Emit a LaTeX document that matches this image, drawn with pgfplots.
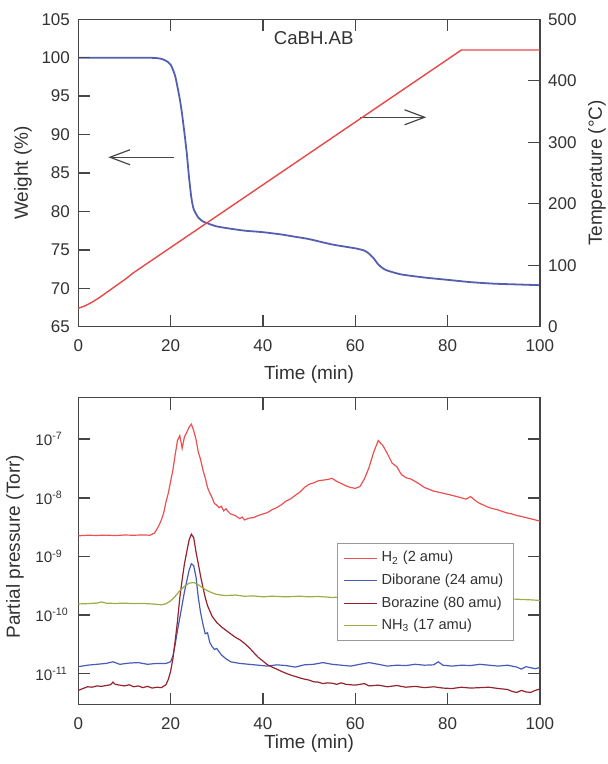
\documentclass[border=0pt]{standalone}
\usepackage{fontspec}
\setmainfont{Liberation Sans}
\usepackage{pgfplots}
\pgfplotsset{compat=1.18}
\usetikzlibrary{arrows.meta}

\definecolor{axisgray}{RGB}{70,70,70}
\definecolor{txtgray}{RGB}{50,50,50}
\definecolor{wtblue}{RGB}{85,95,178}
\definecolor{tempred}{RGB}{232,72,72}
\definecolor{htwo}{RGB}{236,80,80}
\definecolor{dibor}{RGB}{70,92,185}
\definecolor{borz}{RGB}{150,35,48}
\definecolor{nhthree}{RGB}{155,172,72}

\tikzset{tk/.style={draw=axisgray, line width=0.7pt}}

\pgfplotsset{
  tga/.style={
    scale only axis, width=230.75pt, xmin=0, xmax=100,
    axis line style={axisgray, line width=0.7pt},
    major tick length=6pt,
    tick style={axisgray, line width=0.7pt},
    tick label style={font=\fontsize{8.5}{10}\selectfont, text=txtgray, inner sep=0pt},
    label style={font=\fontsize{9.5}{11}\selectfont, text=txtgray, inner sep=0pt},
    xtick={0,20,...,100}, xticklabels={0,20,40,60,80,100},
    xticklabel style={yshift=-6.3pt},
  }
}

\begin{document}
\begin{tikzpicture}
\path (0,0) rectangle (303.5pt,-382pt);

% ---- top: weight and temperature ----
\begin{axis}[tga, at={(39.15pt,-163.35pt)}, anchor=south west, height=153.7pt,
  ymin=65, ymax=105, ytick={65,70,...,105}, yticklabels={65,70,75,80,85,90,95,100,105},
  yticklabel style={xshift=-4pt}, ytick pos=left, xtick pos=both,
  xlabel={Time (min)}, ylabel={Weight (\%)},
  xlabel style={at={(axis description cs:0.5,-0.157)}, anchor=center},
  ylabel style={at={(axis description cs:-0.12,0.5)}, anchor=center}]
\addplot[wtblue, line width=0.9pt, smooth, tension=0.4] coordinates {
(0,100.0) (5,100.0) (10,100.0) (15,100.0) (17,99.95) (18,99.85) (19,99.6) (20,99.1)
(21,97.6) (22,94.6) (22.5,92.6) (23,90.2) (23.5,87.6) (24,84.4) (24.5,81.8) (25,80.3)
(26,79.2) (27,78.7) (28,78.45) (30,78.05) (33,77.75) (36,77.5) (40,77.3) (44,77.0)
(47,76.7) (50,76.4) (55,75.7) (60,75.2) (62,74.9) (63,74.5) (64,73.9) (65,73.1)
(66,72.6) (67,72.3) (70,71.8) (75,71.4) (80,71.1) (85,70.8) (90,70.6) (95,70.5) (100,70.4)};
\pgfplotsinvokeforeach{20,40,60,80}{
  \draw[tk] (axis cs:#1,65) -- (axis cs:#1,66.56);
  \draw[tk] (axis cs:#1,105) -- (axis cs:#1,103.44);}
\pgfplotsinvokeforeach{70,75,80,85,90,95,100}{
  \draw[tk] (axis cs:0,#1) -- (axis cs:2.6,#1);}
\draw[axisgray, line width=0.6pt, -{Straight Barb[length=10pt,width=7.5pt]}]
  (axis cs:20.8,87.05) -- (axis cs:6.5,87.05);
\draw[axisgray, line width=0.6pt, -{Straight Barb[length=10pt,width=7.5pt]}]
  (axis cs:61.1,92.25) -- (axis cs:75.4,92.25);
\node[font=\fontsize{9.3}{11}\selectfont, text=txtgray] at (axis cs:51,102.5) {CaBH.AB};
\end{axis}

\begin{axis}[tga, at={(39.15pt,-163.35pt)}, anchor=south west, height=153.7pt,
  ymin=0, ymax=500, ytick={0,100,...,500}, yticklabels={0,100,200,300,400,500},
  yticklabel style={xshift=4pt}, axis x line=none, axis y line*=right,
  tick align=inside, ytick pos=right, ylabel={Temperature (°C)},
  ylabel style={at={(axis description cs:1.124,0.5)}, anchor=center}]
\addplot[tempred, line width=0.7pt] coordinates {
(0,30) (1.5,34) (3,40) (4.5,47) (6,55) (7.5,63) (9,71) (10.5,79) (12,88) (83,450) (100,450)};
\pgfplotsinvokeforeach{100,200,300,400}{
  \draw[tk] (axis cs:100,#1) -- (axis cs:97.4,#1);}
\end{axis}

% ---- bottom: mass spectrometry ----
\begin{axis}[tga, at={(39.15pt,-352.25pt)}, anchor=south west, height=153.5pt,
  ymode=log, ymin=2.99e-12, ymax=5.13e-7, yminorticks=false,
  ytick={1e-11,1e-10,1e-9,1e-8,1e-7},
  yticklabels={10\textsuperscript{-11},10\textsuperscript{-10},10\textsuperscript{-9},10\textsuperscript{-8},10\textsuperscript{-7}},
  yticklabel style={anchor=west, xshift=-21.65pt, font=\fontsize{7.6}{9}\selectfont},
  ytick pos=both, xtick pos=both,
  xlabel={Time (min)}, ylabel={Partial pressure (Torr)},
  xlabel style={at={(axis description cs:0.5,-0.126)}, anchor=center},
  ylabel style={at={(axis description cs:-0.137,0.514)}, anchor=center},
  legend style={at={(0.944,0.527)}, anchor=north east, draw=gray!80, fill=white,
    line width=0.6pt, font=\fontsize{7.3}{8.5}\selectfont, text=txtgray,
    inner xsep=3pt, inner ysep=2pt, row sep=0.5pt},
  legend cell align=left,
  legend image code/.code={\draw[#1] (0pt,0pt) -- (16.5pt,0pt);}]
\addplot[htwo, line width=0.6pt] coordinates {
(0,2.25e-9) (2,2.3e-9) (4,2.28e-9) (6,2.31e-9) (8,2.27e-9) (10,2.32e-9) (12,2.3e-9) (14,2.33e-9)
(15.5,2.3e-9) (16.5,2.5e-9) (17,2.9e-9) (17.5,3.4e-9) (18,4.2e-9) (18.5,5.5e-9) (19,8.5e-9)
(19.5,1.2e-8) (20,1.9e-8) (20.5,3.0e-8) (21,5.5e-8) (21.5,9.5e-8) (22,1.15e-7) (22.5,7.0e-8)
(23,1.1e-7) (23.5,1.3e-7) (24,1.6e-7) (24.5,1.8e-7) (25,1.4e-7) (25.5,1.0e-7) (26,6.0e-8)
(26.5,4.5e-8) (27,3.0e-8) (27.5,2.2e-8) (28,1.5e-8) (28.5,1.2e-8) (29,1.0e-8) (29.5,8.0e-9)
(30,7.5e-9) (30.5,6.8e-9) (31,7.2e-9) (31.5,6.0e-9) (32,6.5e-9) (32.5,5.8e-9) (33,5.3e-9)
(34,5.0e-9) (35,4.4e-9) (35.5,4.7e-9) (36,4.2e-9) (37,4.5e-9) (38,4.6e-9) (39,5.0e-9)
(40,5.3e-9) (41,5.6e-9) (42,6.3e-9) (43,6.8e-9) (44,7.6e-9) (45,8.8e-9) (46,9.6e-9)
(47,1.1e-8) (48,1.25e-8) (49,1.5e-8) (50,1.7e-8) (51,1.8e-8) (52,1.95e-8) (53,2.0e-8)
(54,2.05e-8) (55,2.15e-8) (56,1.9e-8) (57,1.75e-8) (58,1.6e-8) (59,1.5e-8) (60,1.45e-8)
(61,1.55e-8) (62,2.1e-8) (63,3.3e-8) (64,6.0e-8) (65,9.5e-8) (65.5,8.5e-8) (66,7.8e-8)
(67,5.6e-8) (68,3.9e-8) (69,3.4e-8) (70,2.5e-8) (71,2.2e-8) (72,2.1e-8) (73,1.9e-8)
(74,1.7e-8) (75,1.5e-8) (76,1.4e-8) (77,1.3e-8) (78,1.25e-8) (79,1.2e-8) (80,1.15e-8)
(81,1.1e-8) (82,1.05e-8) (83,1.0e-8) (84,9.5e-9) (85,1.05e-8) (86,9.0e-9) (87,8.0e-9)
(88,7.4e-9) (89,6.8e-9) (90,6.5e-9) (91,6.2e-9) (92,5.8e-9) (93,5.5e-9) (94,5.3e-9)
(95,5.0e-9) (96,4.8e-9) (97,4.6e-9) (98,4.4e-9) (99,4.2e-9) (100,4.0e-9)};
\addlegendentry{H\textsubscript{2} (2 amu)}
\addplot[dibor, line width=0.6pt] coordinates {
(0,1.32e-11) (2,1.4e-11) (4,1.45e-11) (6,1.5e-11) (7.5,1.6e-11) (9,1.45e-11) (11,1.52e-11)
(13,1.55e-11) (15,1.45e-11) (17,1.5e-11) (19,1.5e-11) (20,1.6e-11) (20.5,2.0e-11)
(21,3.2e-11) (21.5,5.5e-11) (22,9.0e-11) (22.5,1.5e-10) (23,2.5e-10) (23.5,3.8e-10)
(24,5.8e-10) (24.5,7.5e-10) (25,7.0e-10) (25.5,4.5e-10) (26,2.0e-10) (26.5,1.1e-10)
(27,7.0e-11) (27.5,4.8e-11) (28,5.0e-11) (28.5,3.4e-11) (29,2.9e-11) (29.5,2.6e-11)
(30,2.7e-11) (31,2.1e-11) (32,1.8e-11) (33,1.6e-11) (35,1.5e-11) (37,1.45e-11) (39,1.4e-11)
(41,1.35e-11) (43,1.42e-11) (45,1.38e-11) (47,1.3e-11) (49,1.42e-11) (51,1.45e-11)
(53,1.55e-11) (55,1.45e-11) (57,1.4e-11) (59,1.35e-11) (61,1.45e-11) (63,1.55e-11)
(65,1.45e-11) (67,1.35e-11) (69,1.4e-11) (71,1.38e-11) (73,1.45e-11) (75,1.4e-11)
(77,1.42e-11) (78,1.6e-11) (79,1.4e-11) (81,1.35e-11) (83,1.4e-11) (85,1.38e-11)
(87,1.45e-11) (89,1.4e-11) (91,1.35e-11) (93,1.4e-11) (95,1.3e-11) (96,1.2e-11)
(97,1.32e-11) (99,1.22e-11) (100,1.28e-11)};
\addlegendentry{Diborane (24 amu)}
\addplot[borz, line width=0.6pt] coordinates {
(0,5.2e-12) (1,5.6e-12) (2,6.0e-12) (3,5.9e-12) (4,6.2e-12) (5,6.1e-12) (6,6.3e-12)
(7,6.5e-12) (7.5,7.2e-12) (8,6.6e-12) (9,6.4e-12) (10,6.2e-12) (11,6.5e-12) (12,6.0e-12)
(13,6.2e-12) (14,5.8e-12) (15,6.1e-12) (16,5.7e-12) (17,5.9e-12) (18,5.8e-12) (19,6.5e-12)
(19.5,8.0e-12) (20,1.1e-11) (20.5,1.8e-11) (21,3.7e-11) (21.5,8.0e-11) (22,2.0e-10)
(22.5,4.0e-10) (23,7.5e-10) (23.5,1.2e-9) (24,1.9e-9) (24.5,2.4e-9) (25,2.1e-9)
(25.5,1.2e-9) (26,7.5e-10) (26.5,4.6e-10) (27,3.0e-10) (27.5,2.0e-10) (28,1.45e-10)
(29,9.5e-11) (30,7.5e-11) (31,6.3e-11) (32,5.5e-11) (33,4.8e-11) (34,4.2e-11) (35,3.8e-11)
(36,3.3e-11) (37,2.8e-11) (38,2.3e-11) (39,1.9e-11) (40,1.65e-11) (41,1.42e-11)
(42,1.3e-11) (43,1.2e-11) (44,1.1e-11) (45,1.02e-11) (46,9.5e-12) (47,9.0e-12)
(48,8.5e-12) (49,8.1e-12) (50,7.8e-12) (51,7.3e-12) (52,7.2e-12) (53,6.8e-12) (54,7.0e-12)
(55,6.9e-12) (56,6.6e-12) (57,7.0e-12) (58,6.6e-12) (60,6.4e-12) (62,6.8e-12) (63,6.2e-12)
(65,6.4e-12) (67,6.0e-12) (69,6.3e-12) (71,5.9e-12) (73,6.1e-12) (75,5.8e-12) (77,6.0e-12)
(79,5.7e-12) (81,5.6e-12) (83,5.9e-12) (85,5.7e-12) (87,5.8e-12) (89,5.9e-12) (91,5.6e-12)
(93,5.4e-12) (94,5.0e-12) (95,4.8e-12) (96,5.2e-12) (97,4.9e-12) (98,4.8e-12) (99,5.2e-12)
(100,5.5e-12)};
\addlegendentry{Borazine (80 amu)}
\addplot[nhthree, line width=0.6pt] coordinates {
(0,1.55e-10) (2,1.57e-10) (4,1.6e-10) (5,1.68e-10) (6,1.6e-10) (8,1.58e-10) (10,1.6e-10)
(12,1.57e-10) (14,1.58e-10) (16,1.55e-10) (18,1.5e-10) (19,1.56e-10) (20,1.75e-10)
(21,2.1e-10) (22,2.6e-10) (23,3.1e-10) (24,3.5e-10) (25,3.6e-10) (26,3.3e-10) (27,2.9e-10)
(28,2.6e-10) (29,2.4e-10) (30,2.25e-10) (32,2.15e-10) (34,2.2e-10) (36,2.1e-10)
(38,2.12e-10) (40,2.05e-10) (42,2.1e-10) (45,2.05e-10) (48,2.1e-10) (50,2.05e-10)
(52,2.08e-10) (55,2.0e-10) (58,2.05e-10) (60,2.0e-10) (62,2.03e-10) (65,1.98e-10)
(68,2.0e-10) (70,1.97e-10) (72,2.0e-10) (75,1.95e-10) (78,1.98e-10) (80,1.93e-10)
(83,1.95e-10) (86,1.9e-10) (88,1.92e-10) (90,1.88e-10) (93,1.9e-10) (96,1.85e-10)
(98,1.82e-10) (100,1.78e-10)};
\addlegendentry{NH\textsubscript{3} (17 amu)}
\pgfplotsinvokeforeach{20,40,60,80}{
  \draw[tk] (axis cs:#1,2.99e-12) -- (axis cs:#1,4.78e-12);
  \draw[tk] (axis cs:#1,5.13e-7) -- (axis cs:#1,3.21e-7);}
\pgfplotsinvokeforeach{1e-11,1e-10,1e-9,1e-8,1e-7}{
  \draw[tk] (axis cs:0,#1) -- (axis cs:2.6,#1);
  \draw[tk] (axis cs:100,#1) -- (axis cs:97.4,#1);}
\end{axis}
\end{tikzpicture}
\end{document}
